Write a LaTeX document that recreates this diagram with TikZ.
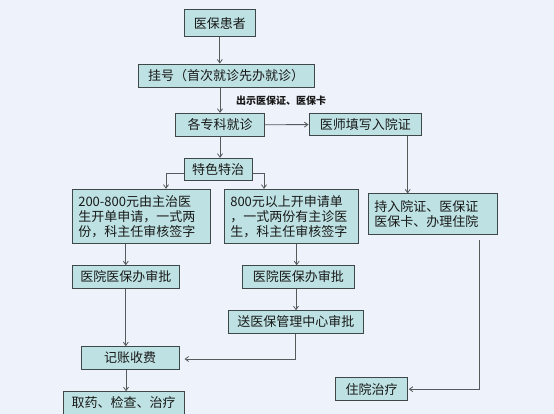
\documentclass[tikz,border=0pt]{standalone}
\usepackage{fontspec}
\newfontfamily\cjk{Noto Sans CJK SC}
\usetikzlibrary{arrows.meta}
\definecolor{bgc}{HTML}{EEF2FA}
\definecolor{boxfill}{HTML}{BEE2E3}
\definecolor{boxline}{HTML}{3E4848}
\definecolor{linec}{HTML}{555A5C}
\tikzset{
  box/.style={draw=boxline, line width=0.9pt, fill=boxfill, rectangle, inner sep=0pt,
    font=\cjk\fontsize{13}{15}\selectfont, text=black!90},
  mbox/.style={box, align=left, inner xsep=6pt, inner ysep=0pt},
  arr/.style={draw=linec, line width=0.8pt, -{Straight Barb[length=3.5pt,width=5pt]}},
  lbl/.style={font=\cjk\bfseries\fontsize{10}{12}\selectfont, text=black!90, inner sep=0pt}
}
\begin{document}
\begin{tikzpicture}[x=1pt,y=-1pt]
\fill[bgc] (0,0) rectangle (554,414);
\useasboundingbox (0,0) rectangle (554,414);

\node[box, minimum width=71.7pt, minimum height=26.7pt] (n1) at (219.8,23.3) {医保患者};
\node[box, minimum width=175.7pt, minimum height=23.3pt] (n2) at (226.2,75.7) {挂号（首次就诊先办就诊）};
\node[box, minimum width=88.6pt, minimum height=22.7pt] (n3) at (220,124.7) {各专科就诊};
\node[box, minimum width=112.7pt, minimum height=22.4pt] (n4) at (365.3,124.6) {医师填写入院证};
\node[box, minimum width=68.3pt, minimum height=22.4pt] (n5) at (218.2,169.5) {特色特治};
\node[mbox, text width=126.4pt, minimum height=54pt] (n6) at (141.5,216.3)
  {200-800元由主治医\\生开单申请，一式两\\份，科主任审核签字};
\node[mbox, text width=122pt, minimum height=54pt] (n7) at (291.3,216.3)
  {800元以上开申请单\\，一式两份有主诊医\\生，科主任审核签字};
\node[mbox, text width=117.4pt, minimum height=40.7pt] (n8) at (433,214.3)
  {持入院证、医保证\\医保卡、办理住院};
\node[box, minimum width=107pt, minimum height=22.6pt] (n9) at (125.8,277) {医院医保办审批};
\node[box, minimum width=112pt, minimum height=22.6pt] (n10) at (298.3,277) {医院医保办审批};
\node[box, minimum width=135pt, minimum height=22.6pt] (n11) at (295.8,322) {送医保管理中心审批};
\node[box, minimum width=98.3pt, minimum height=22.6pt] (n12) at (130.2,358) {记账收费};
\node[box, minimum width=120.7pt, minimum height=22.6pt] (n13) at (123.7,403) {取药、检查、治疗};
\node[box, minimum width=72pt, minimum height=23pt] (n14) at (371.7,389.2) {住院治疗};

\node[lbl] (lab) at (281,100.5) {出示医保证、医保卡};

\draw[arr] (n1.south) -- (n1.south |- n2.north);
\draw[arr] (n3.north |- n2.south) -- (n3.north);
\draw[arr] (n3.east) -- (n4.west);
\draw[arr] (n3.south) -- (n3.south |- n5.north);
\draw[arr] ([yshift=-3.8pt]n5.west) -| ([xshift=24.5pt]n6.north);
\draw[arr] ([yshift=-3.8pt]n5.east) -| ([xshift=-27.3pt]n7.north);
\draw[arr] ([xshift=42.4pt]n4.south) -- ([xshift=42.4pt]n4.south |- n8.north);
\draw[arr] (n9.north |- n6.south) -- (n9.north);
\draw[arr] ([xshift=-1.6pt]n10.north |- n7.south) -- ([xshift=-1.6pt]n10.north);
\draw[arr] (n9.south) -- (n9.south |- n12.north);
\draw[arr] ([xshift=-2.3pt]n10.south) -- ([xshift=-2.3pt]n10.south |- n11.north);
\draw[arr] (n11.south) |- ([xshift=4.7pt,yshift=-1pt]n12.east);
\draw[arr] ([xshift=-4.2pt]n12.south) -- ([xshift=-4.2pt]n12.south |- n13.north);
\draw[arr] ([xshift=46.3pt,yshift=-4.6pt]n8.south) |- ([xshift=0.6pt]n14.east);
\end{tikzpicture}
\end{document}
